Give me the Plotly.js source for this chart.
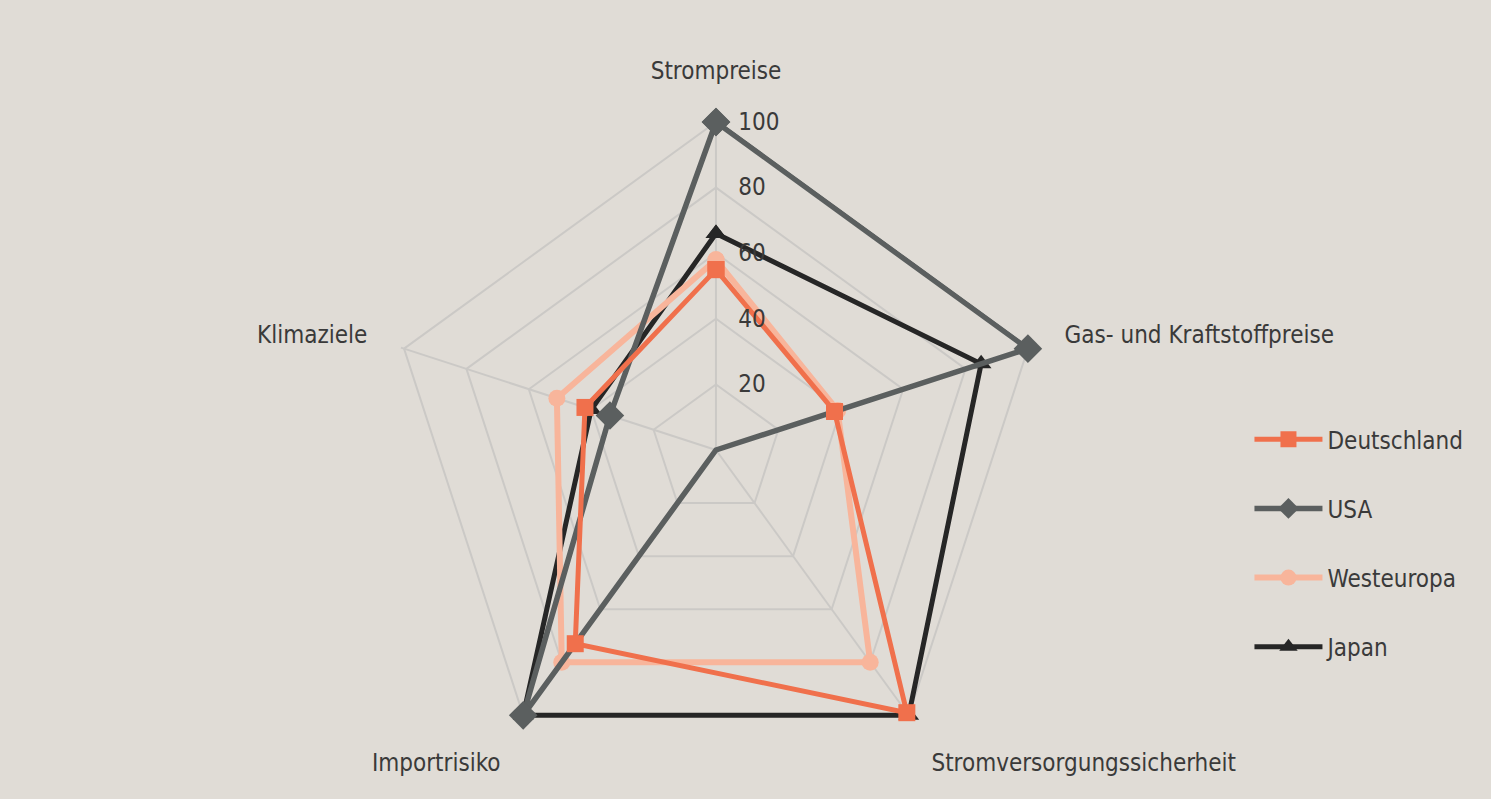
<!DOCTYPE html>
<html>
<head>
<meta charset="utf-8">
<script src="https://cdn.plot.ly/plotly-3.0.1.min.js"></script>
<style>
html,body{margin:0;padding:0;background:#e0dcd6;}
#chart{width:1491px;height:799px;}
</style>
</head>
<body>
<div id="chart"></div>
<script>
const categories = ['Strompreise', 'Gas- und Kraftstoffpreise', 'Stromversorgungssicherheit', 'Importrisiko', 'Klimaziele'];
const deutschland = [55, 38, 99, 73, 42];
const usa = [100, 100, 0, 100, 34];
const westeuropa = [58, 39, 80, 80, 51];
const japan = [66, 85, 100, 100, 40];
const radialTicks = [20, 40, 60, 80, 100];

const FONT = '"DejaVu Sans Condensed", "Open Sans", sans-serif';
const close = a => a.concat([a[0]]);
const thetaC = close(categories);

function tr(name, vals, color, width, symbol, size, rank) {
  return {
    type: 'scatterpolar', mode: 'lines+markers', name: name,
    r: close(vals), theta: thetaC,
    line: {color: color, width: width},
    marker: {color: color, symbol: symbol, size: size},
    legendgroup: name, legendrank: rank, cliponaxis: false,
    hoverinfo: 'skip'
  };
}

const data = [
  tr('Japan', japan, '#262626', 5, 'triangle-up', 18, 4),
  tr('Westeuropa', westeuropa, '#f8b59b', 6, 'circle', 17, 3),
  tr('USA', usa, '#5b5f5f', 5.5, 'diamond', 22, 2),
  tr('Deutschland', deutschland, '#f0704c', 5, 'square', 17, 1)
];

const layout = {
  width: 1491, height: 799,
  paper_bgcolor: '#e0dcd6', plot_bgcolor: '#e0dcd6',
  margin: {l: 0, r: 0, t: 0, b: 0},
  font: {family: FONT, size: 24, color: '#3a3a3a'},
  polar: {
    domain: {x: [0.2580, 0.7024], y: [0.0222, 0.8514]},
    bgcolor: 'rgba(0,0,0,0)',
    gridshape: 'linear',
    radialaxis: {
      range: [0, 101], tickvals: radialTicks, ticktext: radialTicks.map(String),
      angle: 90, tickangle: 90, side: 'clockwise', showline: false,
      ticks: 'outside', ticklen: 17, tickcolor: 'rgba(0,0,0,0)',
      gridcolor: '#cbc9c6', gridwidth: 2,
      tickfont: {family: FONT, size: 24, color: '#3a3a3a'}
    },
    angularaxis: {
      direction: 'clockwise', rotation: 90,
      showline: false, gridcolor: '#cbc9c6', gridwidth: 2,
      ticks: 'outside', ticklen: 30, tickcolor: 'rgba(0,0,0,0)',
      tickfont: {family: FONT, size: 24, color: '#3a3a3a'}
    }
  },
  showlegend: true,
  legend: {
    x: 0.838, y: 0.478, xanchor: 'left', yanchor: 'top',
    bgcolor: 'rgba(0,0,0,0)', tracegroupgap: 35, itemwidth: 68,
    font: {family: FONT, size: 24, color: '#3a3a3a'}
  }
};

Plotly.newPlot('chart', data, layout, {displayModeBar: false, staticPlot: true});
</script>
</body>
</html>
